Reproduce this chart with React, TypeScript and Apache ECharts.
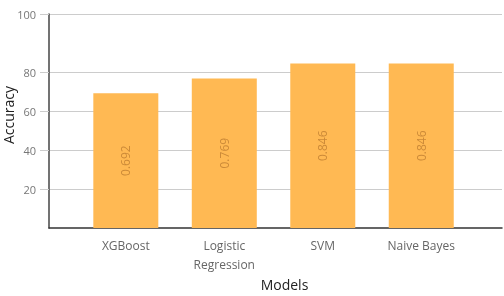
import React, { useEffect, useRef } from "react";
import * as echarts from "echarts";

const categories = ["XGBoost", "Logistic\nRegression", "SVM", "Naive Bayes"];
const accuracy = [0.692, 0.769, 0.846, 0.846];
const yTickValues = [20, 40, 60, 80, 110];
const yTickLabels = ["20", "40", "60", "80", "100"];

export default function App() {
  const ref = useRef<HTMLDivElement>(null);
  useEffect(() => {
    if (!ref.current) return;
    const chart = echarts.init(ref.current, null, { renderer: "svg" });
    const font = "'Open Sans', sans-serif";
    chart.setOption({
      animation: false,
      textStyle: { fontFamily: font },
      grid: { left: 49, right: 2, top: 14, bottom: 68, containLabel: false, outerBoundsMode: "none" },
      xAxis: {
        type: "value",
        min: -0.78,
        max: 3.82,
        name: "Models",
        nameLocation: "middle",
        nameGap: 49,
        nameMoveOverlap: false,
        nameTextStyle: { fontSize: 14, color: "#222", fontFamily: font, padding: [0, 0, 0, 18] },
        splitLine: { show: false },
        axisTick: { show: false },
        axisLine: { show: true, onZero: false, lineStyle: { color: "#333", width: 1.5 } },
        axisLabel: {
          customValues: [0, 1, 2, 3],
          formatter: (v: number) => categories[Math.round(v)],
          fontSize: 12,
          color: "#666",
          lineHeight: 19,
          margin: 8,
          fontFamily: font,
        },
      },
      yAxis: {
        type: "value",
        min: 0,
        max: 110,
        name: "Accuracy",
        nameLocation: "middle",
        nameGap: 34,
        nameMoveOverlap: false,
        nameTextStyle: { fontSize: 14, color: "#222", fontFamily: font, padding: [0, 0, 0, 12] },
        axisLine: { show: true, onZero: false, lineStyle: { color: "#444", width: 1.5 } },
        axisTick: { show: true, customValues: yTickValues, length: 9, lineStyle: { color: "#ccc" } },
        splitLine: { show: true, lineStyle: { color: "#ccc", width: 1 } },
        axisLabel: {
          customValues: yTickValues,
          formatter: (v: number) => yTickLabels[yTickValues.indexOf(v)] ?? String(v),
          fontSize: 11,
          color: "#777",
          margin: 13,
          fontFamily: font,
        },
      },
      series: [
        {
          type: "bar",
          barWidth: 65,
          data: accuracy.map((a, i) => [i, a * 100]),
          itemStyle: { color: "#FFB953" },
          label: {
            show: true,
            position: "inside",
            rotate: 90,
            formatter: (p: any) => accuracy[p.dataIndex].toFixed(3),
            color: "#CC8A38",
            fontSize: 12,
            fontFamily: font,
          },
        },
      ],
    });
    return () => chart.dispose();
  }, []);
  return <div ref={ref} style={{ width: 504, height: 296, position: "fixed", left: 0, top: 0 }} />;
}
